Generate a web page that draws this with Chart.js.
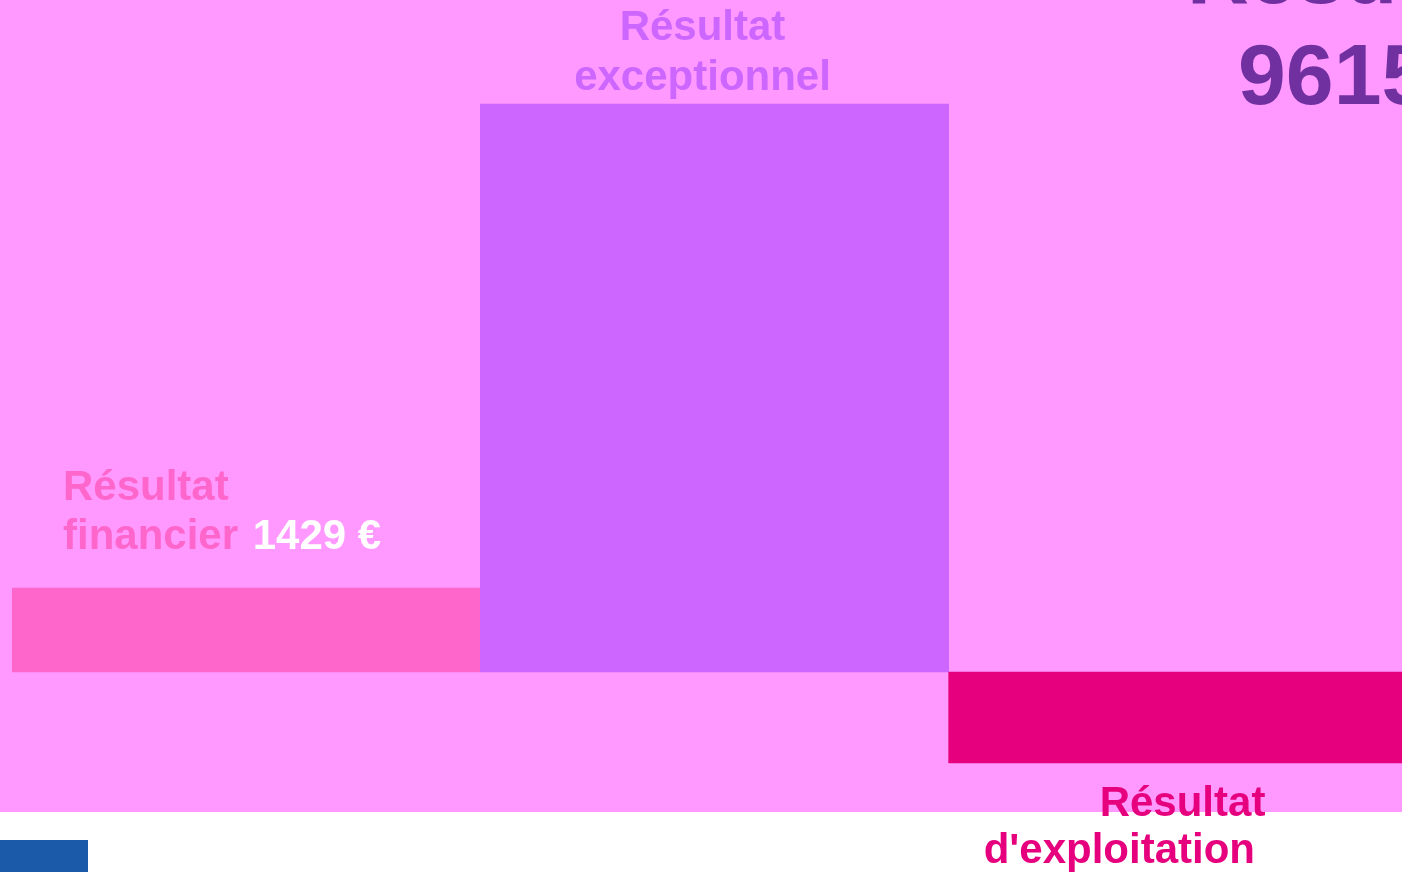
<!DOCTYPE html>
<html>
<head>
<meta charset="utf-8">
<script src="https://cdn.jsdelivr.net/npm/chart.js@4"></script>
<style>
    html, body { margin: 0; padding: 0; overflow: hidden; background: #ffffff; }
    #wrap { position: absolute; left: 0; top: 0; width: 1417px; height: 872px; }
    #logo { position: absolute; left: 0; top: 840px; width: 88px; height: 32px; background: #1a5aa8; }
</style>
</head>
<body>
<div id="wrap"><canvas id="myChart"></canvas></div>
<div id="logo"></div>
<script>
const categories = ['Résultat financier', 'Résultat exceptionnel', "Résultat d'exploitation"];
const values = [1429, 9663, -1548];
const barColors = ['#ff66cc', '#cc66ff', '#e6007e'];
const labelColors = ['#ff66cc', '#cc66ff', '#e6007e'];
const resultTitle = 'Résultat';
const resultValue = [9615];

document.addEventListener('DOMContentLoaded', () => {
    'use strict';

    const font = '"Liberation Sans", Arial, sans-serif';

    // pink slide background behind the plot
    const background = {
        id: 'background',
        beforeDraw(chart) {
            const { ctx, chartArea } = chart;
            ctx.save();
            ctx.fillStyle = '#ff99ff';
            ctx.fillRect(0, 0, chart.width, chartArea.bottom);
            ctx.restore();
        }
    };

    const labels = {
        id: 'labels',
        afterDatasetsDraw(chart) {
            const { ctx } = chart;
            const bars = chart.getDatasetMeta(0).data;
            ctx.save();
            ctx.font = 'bold 42px ' + font;
            ctx.textBaseline = 'alphabetic';

            // financier: left aligned above the bar, value in white
            let b = bars[0];
            let left = b.x - b.width / 2 + 51;
            ctx.textAlign = 'left';
            ctx.fillStyle = labelColors[0];
            ctx.fillText('Résultat', left, b.y - 88);
            ctx.fillText('financier', left, b.y - 39);
            const w = ctx.measureText('financier ').width;
            ctx.fillStyle = '#ffffff';
            ctx.fillText(values[0] + ' €', left + w + 3, b.y - 39);

            // exceptionnel: centred above the bar
            b = bars[1];
            ctx.textAlign = 'center';
            ctx.fillStyle = labelColors[1];
            ctx.fillText('Résultat', b.x - 12, b.y - 64);
            ctx.fillText('exceptionnel', b.x - 12, b.y - 14);

            // exploitation: below the negative bar
            b = bars[2];
            left = b.x - b.width / 2;
            ctx.textAlign = 'left';
            ctx.fillStyle = labelColors[2];
            ctx.fillText('Résultat', left + 151, b.y + 53);
            ctx.fillText("d'exploitation", left + 35, b.y + 100);

            // total result, top right
            ctx.font = 'bold 86px ' + font;
            ctx.fillStyle = '#7030a0';
            ctx.fillText(resultTitle, 1187, 3);
            ctx.fillText(resultValue[0] + ' €', 1238, 104);
            ctx.restore();
        }
    };

    const ctx = document.getElementById('myChart').getContext('2d');
    const myChart = new Chart(ctx, {
        type: 'bar',
        data: {
            labels: categories,
            datasets: [{
                label: 'Résultat',
                data: values,
                backgroundColor: barColors,
                borderWidth: 0,
                barPercentage: 1,
                categoryPercentage: 1
            }]
        },
        options: {
            responsive: true,
            maintainAspectRatio: false,
            animation: false,
            layout: { padding: { left: 12, right: 0, top: 0, bottom: 60 } },
            scales: {
                x: { display: false },
                y: { display: false, min: -2382, max: 11432 }
            },
            plugins: {
                legend: { display: false },
                tooltip: { enabled: false }
            }
        },
        plugins: [background, labels]
    });
});
</script>
</body>
</html>
